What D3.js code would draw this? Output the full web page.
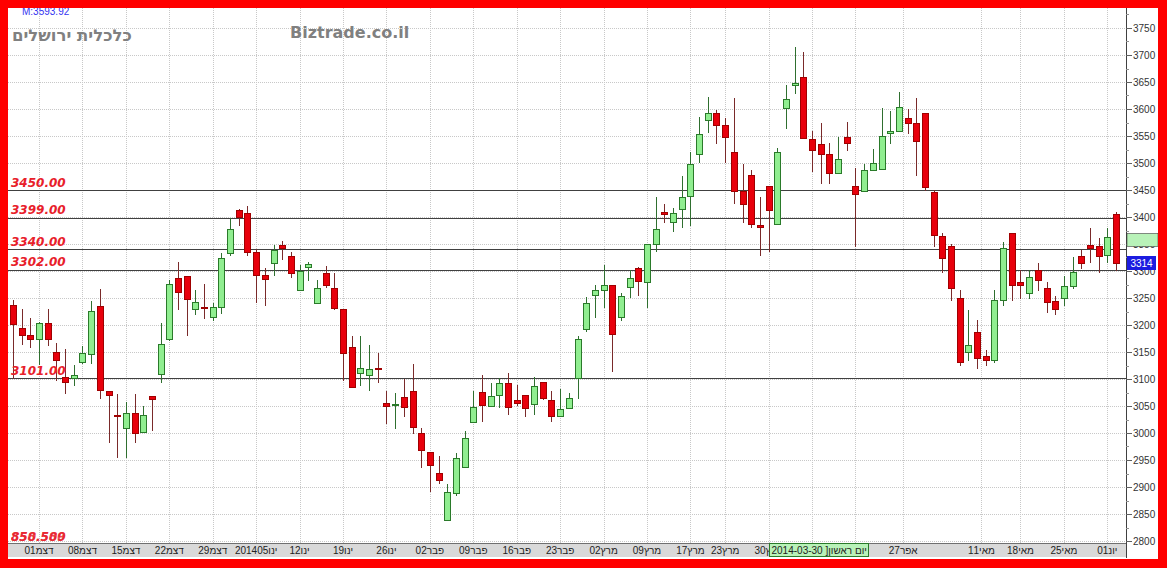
<!DOCTYPE html>
<html><head><meta charset="utf-8">
<script src="https://cdn.jsdelivr.net/npm/d3@7"></script>
<style>body{margin:0;background:#ff0000;overflow:hidden}svg{display:block}</style>
</head><body><script>
// ---- data ----
const opens  = [3237,3194,3181,3174,3204,3150,3104,3102,3131,3146,3235,3078,3034,3009,3037,3002,3068,3109,3174,3287,3291,3230,3234,3215,3233,3333,3413,3407,3335,3293,3315,3348,3328,3265,3307,3241,3296,3269,3230,3159,3111,3107,3120,3056,3052,3067,3078,3000,2965,2926,2839,2889,2937,3020,3076,3050,3070,3093,3061,3070,3054,3094,3061,3031,3046,3102,3193,3256,3265,3274,3215,3270,3306,3280,3350,3409,3391,3415,3439,3517,3580,3593,3570,3520,3448,3478,3385,3457,3387,3602,3644,3659,3544,3535,3517,3481,3548,3457,3448,3487,3489,3556,3559,3583,3575,3593,3446,3365,3346,3250,3150,3187,3143,3135,3246,3370,3280,3259,3302,3269,3244,3250,3272,3328,3348,3346,3330,3406];
const highs  = [3246,3230,3213,3206,3230,3167,3156,3126,3161,3244,3267,3078,3072,3057,3072,3050,3068,3204,3283,3317,3291,3265,3276,3241,3333,3398,3415,3420,3341,3306,3348,3356,3335,3311,3317,3283,3309,3296,3230,3180,3180,3163,3148,3078,3074,3100,3128,3009,2965,2957,2906,2963,3004,3078,3107,3093,3102,3111,3089,3070,3104,3094,3078,3081,3074,3180,3252,3274,3311,3274,3259,3302,3307,3350,3437,3424,3417,3476,3520,3585,3622,3598,3583,3620,3498,3487,3437,3457,3528,3644,3715,3706,3559,3574,3537,3548,3576,3491,3498,3526,3602,3596,3631,3600,3620,3593,3450,3370,3350,3265,3228,3209,3154,3265,3354,3370,3302,3302,3315,3280,3254,3291,3326,3339,3380,3361,3380,3409];
const lows   = [3102,3165,3159,3128,3163,3098,3074,3089,3130,3130,3065,2983,2955,2955,2983,3002,3006,3094,3172,3230,3181,3220,3213,3209,3222,3330,3385,3330,3243,3237,3293,3322,3289,3265,3283,3241,3270,3230,3098,3085,3089,3080,3094,3019,3009,3031,3000,2937,2893,2907,2839,2885,2937,3020,3022,3050,3048,3035,3052,3031,3035,3063,3022,3031,3046,3065,3189,3215,3233,3115,3209,3252,3256,3233,3337,3391,3374,3381,3385,3502,3557,3537,3502,3426,3391,3381,3330,3337,3387,3565,3630,3546,3485,3463,3463,3481,3524,3346,3448,3487,3489,3537,3559,3556,3478,3450,3346,3298,3246,3126,3135,3120,3126,3131,3237,3246,3250,3250,3265,3224,3220,3237,3269,3306,3317,3298,3317,3302];
const closes = [3202,3181,3174,3204,3174,3135,3094,3107,3148,3226,3080,3070,3033,3037,3000,3033,3063,3165,3276,3261,3248,3243,3233,3233,3324,3378,3400,3335,3293,3285,3339,3343,3296,3300,3313,3269,3274,3231,3148,3085,3120,3119,3118,3050,3054,3048,3011,2969,2941,2913,2891,2954,2991,3048,3052,3069,3093,3048,3056,3046,3087,3065,3031,3044,3065,3174,3241,3265,3274,3183,3254,3287,3281,3350,3378,3406,3407,3437,3498,3554,3593,3570,3548,3448,3424,3387,3381,3413,3520,3619,3648,3546,3524,3517,3481,3507,3537,3443,3487,3500,3550,3559,3604,3574,3541,3455,3367,3324,3269,3131,3163,3139,3135,3246,3343,3274,3274,3289,3283,3243,3230,3272,3298,3315,3343,3328,3363,3314];

// weekly grid lines (candle index) and the visible date labels
const gridIndex      = [3,8,13,18,23,28,33,38,43,48,53,58,63,68,73,78,82,87,92,97,102.5,111.5,116,121,126];
const dateTickIndex  = [3,8,13,18,23,28,33,38,43,48,53,58,63,68,73,78,82,87,102.5,111.5,116,121,126];
const dateTickLabels = ["01דצמ","08דצמ","15דצמ","22דצמ","29דצמ","201405ינו","12ינו","19ינו","26ינו","02פבר","09פבר","16פבר","23פבר","02מרץ","09מרץ","17מרץ","23מרץ","30מרץ","27אפר","11מאי","18מאי","25מאי","01יונ"];
const priceTicks = [2800,2850,2900,2950,3000,3050,3100,3150,3200,3250,3300,3350,3400,3450,3500,3550,3600,3650,3700,3750];
const levelValues = [3450,3399,3340,3302,3101];
const levelLabels = ["3450.00","3399.00","3340.00","3302.00","3101.00"];
const clampedLabels = ["850.500","858.589"];
const lastPrice = 3314;
const cursorDate = "2014-03-30 ]יום ראשון";
const cursorIndex = 87;
const cursorPrice = 3357;
const maxLabel = "M:3593.92";

// ---- layout ----
const W = 1167, H = 568;
const plotL = 8, plotR = 1126, plotT = 8, plotB = 543;
const svg = d3.select("body").append("svg").attr("width", W).attr("height", H);

const x = d3.scaleLinear().domain([0, opens.length - 1]).range([13, 1116]);
const y = d3.scaleLinear().domain([2800, 3750]).range([541, 28]);
const px = v => Math.round(x(v)) + 0.5;
const py = v => Math.round(y(v)) + 0.5;

// white chart area
svg.append("rect").attr("x", plotL).attr("y", plotT).attr("width", 1158 - plotL).attr("height", 559 - plotT).attr("fill", "#ffffff");

// grid
const grid = svg.append("g");
grid.selectAll("line.h").data(priceTicks).join("line")
  .attr("x1", plotL).attr("x2", plotR).attr("y1", d => py(d)).attr("y2", d => py(d))
  .attr("stroke", "#c8c8c8").attr("stroke-dasharray", "1,1");
grid.selectAll("line.v").data(gridIndex).join("line")
  .attr("x1", d => px(d)).attr("x2", d => px(d)).attr("y1", plotT).attr("y2", plotB)
  .attr("stroke", "#c8c8c8").attr("stroke-dasharray", "1,1");

// support / resistance lines
svg.selectAll("line.lvl").data(levelValues).join("line")
  .attr("x1", plotL).attr("x2", plotR).attr("y1", d => py(d)).attr("y2", d => py(d))
  .attr("stroke", "#404040").attr("stroke-width", 1);

// candles
const idx = d3.range(opens.length);
const cg = svg.append("g");
cg.selectAll("line.wick").data(idx).join("line")
  .attr("x1", i => px(i)).attr("x2", i => px(i))
  .attr("y1", i => Math.round(y(highs[i]))).attr("y2", i => Math.round(y(lows[i])) + 1)
  .attr("stroke", i => closes[i] >= opens[i] ? "#2f6f2f" : "#7a2a2a").attr("stroke-width", 1);
cg.selectAll("rect.body").data(idx).join("rect")
  .attr("x", i => Math.round(x(i)) - 2.5)
  .attr("width", 6)
  .attr("y", i => Math.round(y(Math.max(opens[i], closes[i]))) + 0.5)
  .attr("height", i => Math.max(1, Math.abs(Math.round(y(opens[i])) - Math.round(y(closes[i])))))
  .attr("fill", i => closes[i] >= opens[i] ? "#90ee90" : "#e8000c")
  .attr("stroke", i => closes[i] >= opens[i] ? "#2a7a2a" : "#a00000")
  .attr("stroke-width", 1);

// level labels
svg.selectAll("text.lvl").data(levelValues).join("text")
  .attr("x", 11).attr("y", d => y(d) - 3.5)
  .attr("font-family", "DejaVu Sans").attr("font-weight", "bold").attr("font-style", "italic")
  .attr("font-size", 12).attr("fill", "#e8202a")
  .text((d, i) => levelLabels[i]);
// overlapping labels clamped at the bottom of the chart
clampedLabels.forEach(t => {
  svg.append("text").attr("x", 11).attr("y", 541)
    .attr("font-family", "DejaVu Sans").attr("font-weight", "bold").attr("font-style", "italic")
    .attr("font-size", 12).attr("fill", "#e8202a").attr("opacity", 0.8).text(t);
});

// right axis
const ax = svg.append("g");
ax.append("line").attr("x1", plotR + 0.5).attr("x2", plotR + 0.5).attr("y1", plotT).attr("y2", 558).attr("stroke", "#404040");
ax.selectAll("line.t").data(priceTicks).join("line")
  .attr("x1", plotR).attr("x2", plotR + 6).attr("y1", d => py(d)).attr("y2", d => py(d)).attr("stroke", "#606060");
ax.selectAll("line.mt").data(priceTicks.map(v => v + 25)).join("line")
  .attr("x1", plotR).attr("x2", plotR + 3).attr("y1", d => py(d)).attr("y2", d => py(d)).attr("stroke", "#909090");
ax.selectAll("text").data(priceTicks).join("text")
  .attr("x", plotR + 7).attr("y", d => y(d) + 3.5)
  .attr("font-family", "Liberation Sans").attr("font-size", 10).attr("fill", "#333")
  .text(d => d);

// crosshair price marker on the axis
ax.append("rect").attr("x", plotR + 1).attr("y", Math.round(y(cursorPrice)) - 6.5).attr("width", 31).attr("height", 13)
  .attr("fill", "#b8f2b8").attr("stroke", "#404040").attr("stroke-width", 0.6);
// last price marker
const lpY = Math.round(y(lastPrice));
ax.append("rect").attr("x", plotR + 1).attr("y", lpY - 7).attr("width", 29).attr("height", 14).attr("fill", "#1c1ce0");
ax.append("text").attr("x", plotR + 15.5).attr("y", lpY + 3.5).attr("text-anchor", "middle")
  .attr("font-family", "Liberation Sans").attr("font-size", 10).attr("fill", "#fff").text(lastPrice);

// x-axis band
svg.append("rect").attr("x", plotL).attr("y", plotB).attr("width", plotR - plotL).attr("height", 14).attr("fill", "#d9d9d9");
svg.append("line").attr("x1", plotL).attr("x2", plotR).attr("y1", plotB + 0.5).attr("y2", plotB + 0.5).attr("stroke", "#707070");
svg.selectAll("text.date").data(dateTickIndex).join("text")
  .attr("x", d => x(d)).attr("y", 554).attr("text-anchor", "middle")
  .attr("font-family", "Liberation Sans").attr("font-size", 10).attr("fill", "#222")
  .text((d, i) => dateTickLabels[i]);

// crosshair date tooltip (covers part of the axis labels)
const cx0 = Math.round(x(cursorIndex)) + 0.5;
svg.append("rect").attr("x", cx0).attr("y", plotB + 0.5).attr("width", 99).attr("height", 13)
  .attr("fill", "#b8f2b8").attr("stroke", "#2a7a2a").attr("stroke-width", 1);
svg.append("text").attr("x", cx0 + 2).attr("y", 554)
  .attr("font-family", "Liberation Sans").attr("font-size", 10).attr("fill", "#222").text(cursorDate);

// titles
svg.append("text").attr("x", 12).attr("y", 41)
  .attr("font-family", "DejaVu Sans").attr("font-weight", "bold").attr("font-size", 16.5).attr("fill", "#808080")
  .text("כלכלית ירושלים");
svg.append("text").attr("x", 290).attr("y", 38)
  .attr("font-family", "DejaVu Sans").attr("font-weight", "bold").attr("font-size", 16).attr("fill", "#808080")
  .text("Biztrade.co.il");
svg.append("text").attr("x", 22).attr("y", 15)
  .attr("font-family", "Liberation Sans").attr("font-size", 10).attr("fill", "#3535f0").text(maxLabel);

// red frame on top
const frame = svg.append("g").attr("fill", "#ff0000");
frame.append("rect").attr("x", 0).attr("y", 0).attr("width", W).attr("height", 8);
frame.append("rect").attr("x", 0).attr("y", 0).attr("width", 8).attr("height", H);
frame.append("rect").attr("x", 1158).attr("y", 0).attr("width", W - 1158).attr("height", H);
frame.append("rect").attr("x", 0).attr("y", 559).attr("width", W).attr("height", H - 559);
</script></body></html>
